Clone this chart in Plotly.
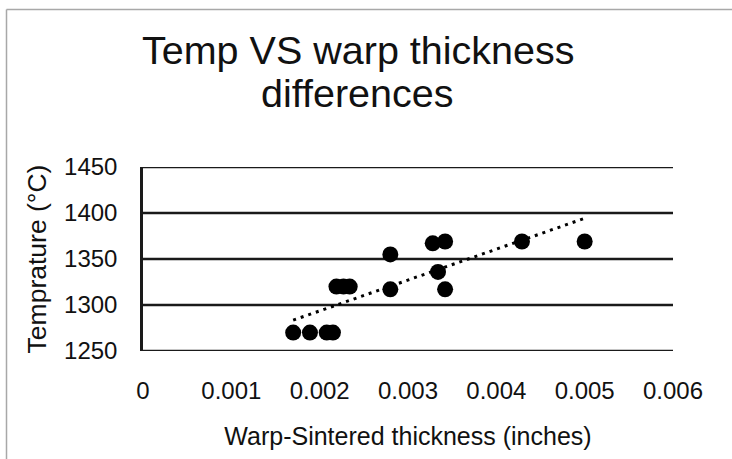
import numpy as np
import plotly.graph_objects as go

# Data
thickness = [0.00170, 0.00189, 0.00208, 0.00215, 0.00219, 0.00227, 0.00234,
             0.00280, 0.00280, 0.00328, 0.00342, 0.00334, 0.00342, 0.00429, 0.00500]
temperature = [1270, 1270, 1270, 1270, 1320, 1320, 1320,
               1355, 1317, 1367, 1369, 1336, 1317, 1369, 1369]
x_ticks = [0, 0.001, 0.002, 0.003, 0.004, 0.005, 0.006]
x_tick_labels = ["0", "0.001", "0.002", "0.003", "0.004", "0.005", "0.006"]
y_ticks = [1250, 1300, 1350, 1400, 1450]

# Linear trendline computed from the data
slope, intercept = np.polyfit(thickness, temperature, 1)
trend_x = [min(thickness), max(thickness)]
trend_y = [slope * v + intercept for v in trend_x]

FONT = "Liberation Sans, Arial, sans-serif"
TXT = "#111111"

fig = go.Figure()
fig.add_trace(go.Scatter(
    x=thickness, y=temperature, mode="markers",
    marker=dict(color="black", size=16, line=dict(width=0)),
    showlegend=False, hoverinfo="x+y"))
fig.add_trace(go.Scatter(
    x=trend_x, y=trend_y, mode="lines",
    line=dict(color="black", width=3, dash="3px,5px"),
    showlegend=False, hoverinfo="skip"))

L, R, T, B = 143, 59, 167, 108
W, H = 732, 459
pw, ph = W - L - R, H - T - B

def px(xp):
    return (xp - L) / pw

def py(yp):
    return (H - B - yp) / ph

shapes = [
    dict(type="line", xref="paper", yref="y", x0=0, x1=1, y0=v, y1=v,
         line=dict(color="#1a1a1a", width=2.5), layer="below")
    for v in y_ticks
]
shapes += [
    dict(type="line", xref="paper", yref="paper",
         x0=px(6.5), x1=px(W + 5), y0=py(9.5), y1=py(9.5),
         line=dict(color="#a8a8a8", width=1.5)),
    dict(type="line", xref="paper", yref="paper",
         x0=px(6.5), x1=px(6.5), y0=py(9.5), y1=py(H + 5),
         line=dict(color="#a8a8a8", width=1.5)),
]

fig.update_layout(
    width=W, height=H,
    margin=dict(l=L, r=R, t=T, b=B, pad=0),
    paper_bgcolor="white", plot_bgcolor="white",
    font=dict(family=FONT, color=TXT),
    xaxis=dict(
        range=[0, 0.006], tickvals=x_ticks, ticktext=x_tick_labels,
        showgrid=False, zeroline=False, showline=False, automargin=False,
        ticks="", ticklabelstandoff=23,
        tickfont=dict(size=24, family=FONT, color=TXT),
        title=dict(text="Warp-Sintered thickness (inches)",
                   font=dict(size=25, family=FONT, color=TXT), standoff=24),
    ),
    yaxis=dict(
        range=[1250, 1450], tickvals=y_ticks,
        showgrid=False, zeroline=False, automargin=False,
        showline=True, linecolor="#1a1a1a", linewidth=2.5,
        ticks="", ticklabelstandoff=18,
        tickfont=dict(size=24, family=FONT, color=TXT),
        title=dict(text="Temprature (°C)",
                   font=dict(size=26.5, family=FONT, color=TXT), standoff=10),
    ),
    annotations=[
        dict(text="Temp VS warp thickness", xref="paper", yref="paper",
             x=px(357.5), y=py(50), xanchor="center", yanchor="middle",
             showarrow=False, font=dict(size=39.5, family=FONT, color=TXT)),
        dict(text="differences", xref="paper", yref="paper",
             x=px(357.5), y=py(93), xanchor="center", yanchor="middle",
             showarrow=False, font=dict(size=39.5, family=FONT, color=TXT)),
    ],
    shapes=shapes,
)

fig.write_html("out.html", config={"displayModeBar": False},
               post_script="document.body.style.margin='0';")
